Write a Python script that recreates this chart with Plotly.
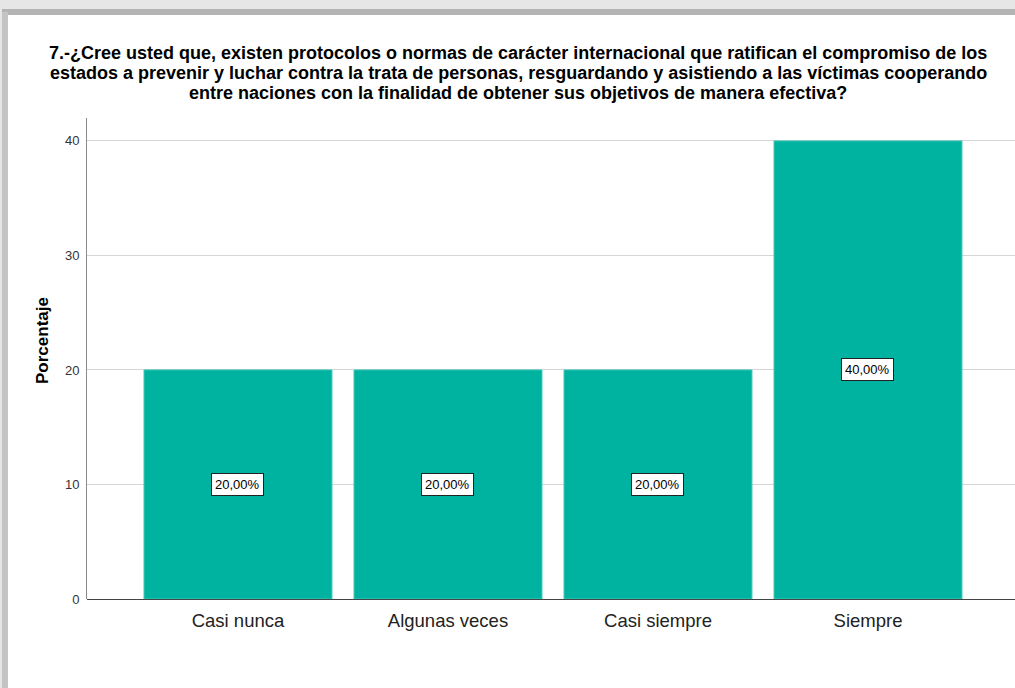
import plotly.graph_objects as go

categories = ["Casi nunca", "Algunas veces", "Casi siempre", "Siempre"]
percentages = [20.0, 20.0, 20.0, 40.0]
y_ticks = [0, 10, 20, 30, 40]
title_lines = [
    "7.-¿Cree usted que, existen protocolos o normas de carácter internacional que ratifican el compromiso de los",
    "estados a prevenir y luchar contra la trata de personas, resguardando y asistiendo a las víctimas cooperando",
    "entre naciones con la finalidad de obtener sus objetivos de manera efectiva?",
]
y_title = "Porcentaje"

W, H = 1015, 688
L, R, T, B = 87, 0, 118, 89
pw, ph = W - L - R, H - T - B

def px_x(x):
    return (x - L) / pw

def px_y(y):
    return (H - B - y) / ph

BAR = "#00B3A0"
SANS = "Liberation Sans, Arial, sans-serif"

fig = go.Figure()
fig.add_trace(go.Bar(
    x=categories, y=percentages, width=0.895,
    marker=dict(color=BAR, line=dict(color="#3fc7b6", width=1)),
    hoverinfo="skip", showlegend=False,
))

for c, v in zip(categories, percentages):
    fig.add_annotation(
        x=c, y=v / 2, text=f"{v:.2f}%".replace(".", ","), showarrow=False,
        font=dict(family=SANS, size=13, color="#000"),
        bgcolor="white", bordercolor="#222", borderwidth=1, borderpad=3,
    )

for i, line in enumerate(title_lines):
    fig.add_annotation(
        xref="paper", yref="paper", x=px_x(518), y=px_y(53 + 20.2 * i),
        xanchor="center", yanchor="middle", showarrow=False, text=f"<b>{line}</b>",
        font=dict(family=SANS, size=18, color="#000"),
    )

fig.add_annotation(
    xref="paper", yref="paper", x=px_x(42), y=px_y(341), textangle=-90,
    xanchor="center", yanchor="middle", showarrow=False, text=f"<b>{y_title}</b>",
    font=dict(family=SANS, size=17, color="#000"),
)

shapes = [
    dict(type="rect", xref="paper", yref="paper", x0=px_x(0), x1=px_x(W), y0=px_y(9), y1=px_y(0),
         fillcolor="#e6e6e6", line=dict(width=0), layer="below"),
    dict(type="rect", xref="paper", yref="paper", x0=px_x(0), x1=px_x(W), y0=px_y(15), y1=px_y(9),
         fillcolor="#b4b4b4", line=dict(width=0), layer="below"),
    dict(type="rect", xref="paper", yref="paper", x0=px_x(0), x1=px_x(2), y0=px_y(H), y1=px_y(9),
         fillcolor="#e6e6e6", line=dict(width=0), layer="below"),
    dict(type="rect", xref="paper", yref="paper", x0=px_x(2), x1=px_x(8), y0=px_y(H), y1=px_y(12),
         fillcolor="#c4c4c4", line=dict(width=0), layer="below"),
]

fig.update_layout(
    width=W, height=H,
    margin=dict(l=L, r=R, t=T, b=B, autoexpand=False),
    paper_bgcolor="white", plot_bgcolor="white",
    shapes=shapes,
    bargap=0.105,
    xaxis=dict(range=[-0.719, -0.719 + pw / 210], showgrid=False, showline=False,
               ticks="", tickfont=dict(family=SANS, size=18.5, color="#222"), ticklabelstandoff=8,
               zeroline=False, fixedrange=True, automargin=False),
    yaxis=dict(range=[0, 42], tickvals=y_ticks, showgrid=True, gridcolor="#d6d6d6", gridwidth=1,
               showline=True, linecolor="#8a8a8a", linewidth=1, ticks="",
               tickfont=dict(family=SANS, size=13, color="#333"), ticklabelstandoff=4,
               zeroline=True, zerolinecolor="#444", zerolinewidth=1, automargin=False),
)

fig.write_html("out.html", config={"displayModeBar": False},
               post_script="document.body.style.margin='0';document.body.style.overflow='hidden';")
